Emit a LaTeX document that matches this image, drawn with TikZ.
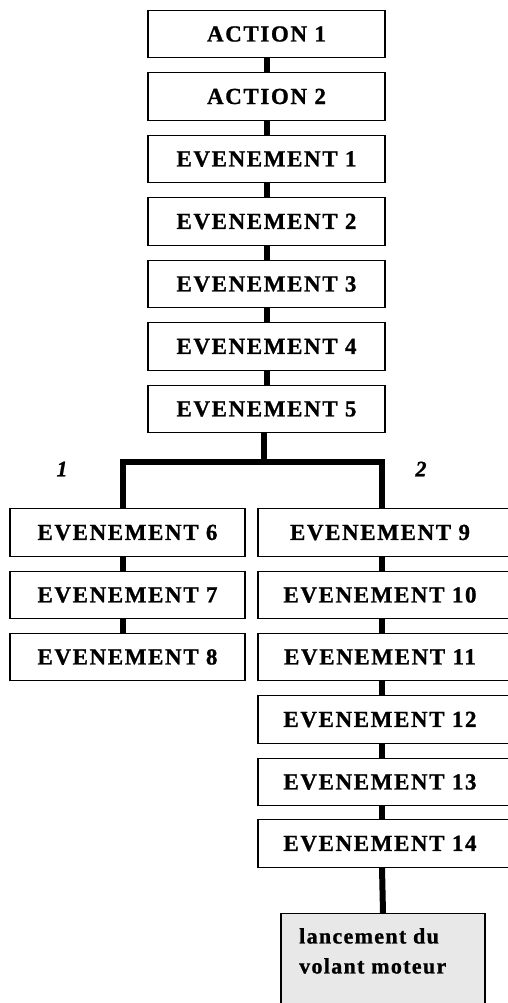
\documentclass[tikz,border=0pt]{standalone}
\usepackage{fontspec}
\setmainfont{Liberation Serif}
\begin{document}
\begin{tikzpicture}[x=1pt,y=-1pt,
  box/.style={draw, line width=1.2pt, fill=white, minimum height=47.5pt, inner sep=0pt,
    font=\fontsize{23}{26}\selectfont\bfseries\addfontfeature{LetterSpace=7,FakeBold=1}},
  mainbox/.style={box, minimum width=237pt},
  leftbox/.style={box, minimum width=235pt},
  rightbox/.style={box, minimum width=262pt},
  endbox/.style={draw, line width=1.2pt, fill=gray!18, minimum width=204pt, minimum height=110pt, anchor=north, inner sep=0pt},
  link/.style={line width=6pt},
  branchlabel/.style={font=\fontsize{22}{24}\selectfont\bfseries\itshape\addfontfeature{FakeBold=1}}]
\useasboundingbox (0,0) rectangle (507,1003);

% main sequence
\node[mainbox] (a1) at (266.5,34)    {ACTION 1};
\node[mainbox] (a2) at (266.5,96.5)  {ACTION 2};
\node[mainbox] (e1) at (266.5,159)   {EVENEMENT 1};
\node[mainbox] (e2) at (266.5,221.5) {EVENEMENT 2};
\node[mainbox] (e3) at (266.5,284)   {EVENEMENT 3};
\node[mainbox] (e4) at (266.5,346.5) {EVENEMENT 4};
\node[mainbox] (e5) at (266.5,409)   {EVENEMENT 5};

% branch 1
\node[leftbox] (e6) at (127.5,532.5) {EVENEMENT 6};
\node[leftbox] (e7) at (127.5,595)   {EVENEMENT 7};
\node[leftbox] (e8) at (127.5,657)   {EVENEMENT 8};

% branch 2
\node[rightbox] (e9)  at (389,532.5) {EVENEMENT 9\hspace*{18pt}};
\node[rightbox] (e10) at (389,595)   {EVENEMENT 10\hspace*{18pt}};
\node[rightbox] (e11) at (389,657)   {EVENEMENT 11\hspace*{18pt}};
\node[rightbox] (e12) at (389,719.5) {EVENEMENT 12\hspace*{18pt}};
\node[rightbox] (e13) at (389,782)   {EVENEMENT 13\hspace*{18pt}};
\node[rightbox] (e14) at (389,843.5) {EVENEMENT 14\hspace*{18pt}};

% final state
\node[endbox] (lv) at (383,913) {};
\node[anchor=north west, align=left, inner sep=0pt,
  font=\fontsize{22}{30}\selectfont\bfseries\addfontfeature{LetterSpace=6,FakeBold=1}]
  (lvtext) at (299,928) {lancement du\\volant moteur};

% branch labels
\node[branchlabel] (l1) at (62,469)  {1};
\node[branchlabel] (l2) at (421,469) {2};

% vertical guides for the column links
\coordinate (lx) at (123,0);
\coordinate (rx) at (382,0);
\coordinate (jn) at (264,462);

% links
\foreach \u/\v in {a1/a2,a2/e1,e1/e2,e2/e3,e3/e4,e4/e5}
  \draw[link] (\u.south) -- (\v.north);
\foreach \u/\v in {e6/e7,e7/e8}
  \draw[link] (\u.south -| lx) -- (\v.north -| lx);
\foreach \u/\v in {e9/e10,e10/e11,e11/e12,e12/e13,e13/e14}
  \draw[link] (\u.south -| rx) -- (\v.north -| rx);
\draw[link] (e5.south -| jn) -- (jn);
\draw[link] (e6.north -| lx) |- (jn) -| (e9.north -| rx);
\draw[link] (e14.south -| rx) -- (lv.north);
\end{tikzpicture}
\end{document}
